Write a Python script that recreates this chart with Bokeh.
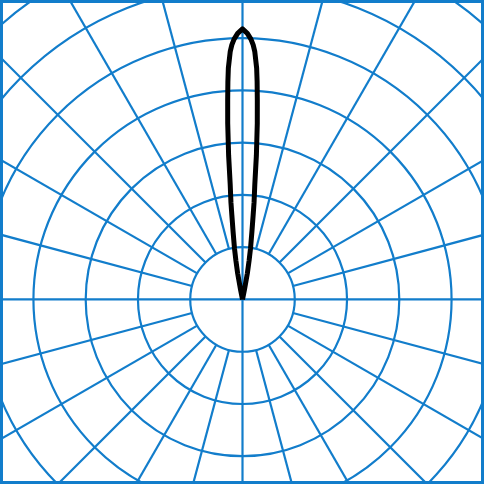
import numpy as np
from bokeh.plotting import figure
from bokeh.embed import file_html
from bokeh.resources import INLINE

# ---- data ----
ring_radii = [1, 2, 3, 4, 5, 6, 7, 8]
spoke_angles_deg = list(range(0, 360, 15))
through_center_angles_deg = [0, 90, 180, 270]
spoke_inner_radius = 1
spoke_outer_radius = 10

# lobe: offset angle from the vertical (deg, + = right), radius (ring units)
lobe_offset_deg = [12.0, 11.3, 10.5, 9.65, 8.9, 7.9, 7.2, 6.8, 6.1, 5.5,
                   4.8, 4.25, 3.84, 3.5, 2.84, 2.4, 1.85, 1.04, 0.0,
                   -1.04, -1.85, -2.4, -2.84, -3.5, -3.84, -4.25, -4.8,
                   -5.5, -6.1, -6.8, -7.2, -7.9, -8.9, -9.65, -10.5, -11.3,
                   -12.0]
lobe_radius = [0.0, 0.189, 0.509, 0.751, 0.993, 1.309, 1.624, 1.865, 2.216,
               2.772, 3.382, 3.825, 4.176, 4.434, 4.747, 4.875, 4.984, 5.093,
               5.176,
               5.093, 4.984, 4.875, 4.747, 4.434, 4.176, 3.825, 3.382, 2.772,
               2.216, 1.865, 1.624, 1.309, 0.993, 0.751, 0.509, 0.189, 0.0]

BLUE = "#127DCB"

W = 484
p = figure(width=W, height=W, x_range=(-4.63, 4.63), y_range=(-3.54, 5.72),
           output_backend="svg", toolbar_location=None, min_border=0,
           x_axis_location=None, y_axis_location=None)
p.grid.visible = False
p.outline_line_color = BLUE
p.outline_line_width = 5
p.background_fill_color = "white"

# rings
p.circle(x=[0] * len(ring_radii), y=[0] * len(ring_radii), radius=ring_radii,
         fill_color=None, line_color=BLUE, line_width=2.2)

# spokes
x0, y0, x1, y1 = [], [], [], []
for a in spoke_angles_deg:
    r0 = 0 if a in through_center_angles_deg else spoke_inner_radius
    t = np.deg2rad(a)
    x0.append(r0 * np.cos(t)); y0.append(r0 * np.sin(t))
    x1.append(spoke_outer_radius * np.cos(t)); y1.append(spoke_outer_radius * np.sin(t))
p.segment(x0=x0, y0=y0, x1=x1, y1=y1, line_color=BLUE, line_width=2.2)

# lobe
off = np.deg2rad(np.array(lobe_offset_deg))
r = np.array(lobe_radius)
p.line(x=r * np.sin(off), y=r * np.cos(off), line_color="black", line_width=5,
       line_join="round")

open("out.html", "w").write(file_html(p, INLINE))
